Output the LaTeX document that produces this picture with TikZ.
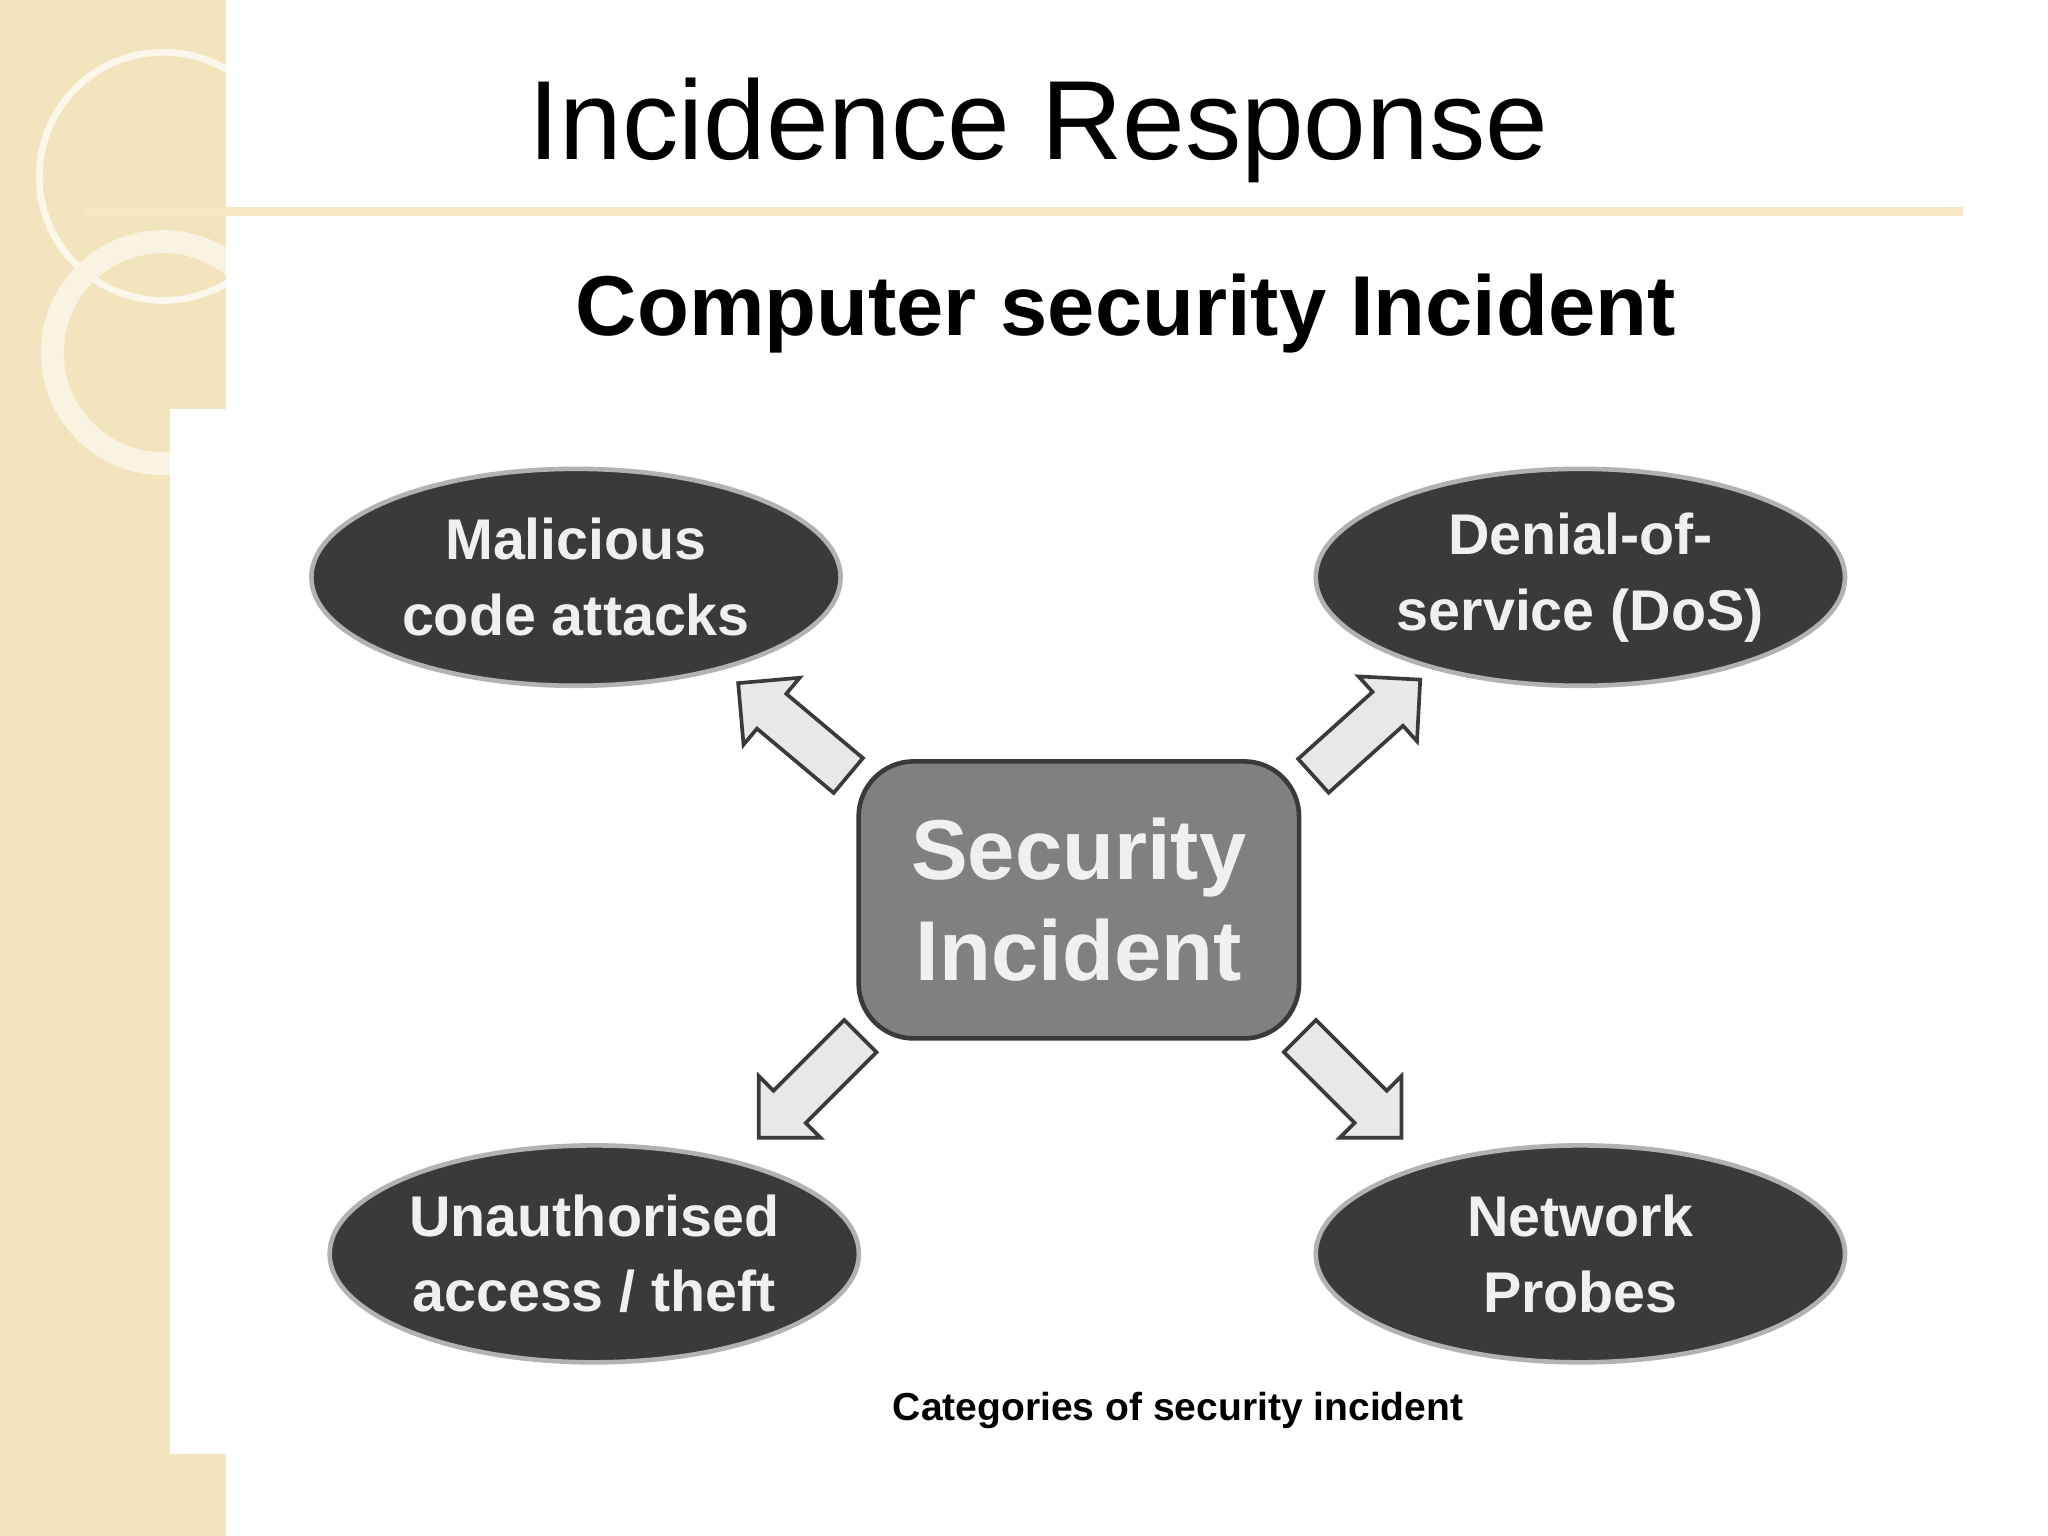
\documentclass[tikz,border=0pt]{standalone}
\usepackage{fontspec}
\setmainfont{Liberation Sans}
\usetikzlibrary{shapes.geometric,shapes.arrows}
\definecolor{beige}{RGB}{242,228,188}
\definecolor{beigeline}{RGB}{246,232,196}
\definecolor{ell}{RGB}{58,58,58}
\definecolor{box}{RGB}{128,128,128}
\tikzset{
 cat/.style={ellipse,fill=ell,draw=gray!60,line width=1pt,inner sep=0pt,minimum width=4.05cm,minimum height=1.66cm,text=white!94!black,font=\fontsize{12.5}{16.5}\selectfont\bfseries,align=center},
 blk/.style={single arrow,draw=ell,fill=gray!18,line width=0.8pt,minimum height=1.1cm,inner sep=0.16cm,single arrow head extend=0.16cm,single arrow head indent=0pt}
}
\begin{document}
\begin{tikzpicture}[x=0.01cm,y=-0.01cm]
\useasboundingbox (0,0) rectangle (1568,1176);
\fill[beige] (0,0) rectangle (173,1176);
\begin{scope}
\clip (0,0) rectangle (173,1176);
\draw[white!70!beige,line width=1.5pt] (125,135) circle (95);
\draw[white!55!beige,line width=5pt] (125,270) circle (85);
\end{scope}
\fill[white] (130,313) rectangle (1510,1113);
\node (title) at (795,100) {\fontsize{24.5}{28}\selectfont Incidence Response};
\draw[beigeline,line width=2pt] (65,162) -- (1503,162);
\node (sub) at (862,240) {\fontsize{18.5}{22}\selectfont\bfseries Computer security Incident};
\node[cat] (mal) at (441,442) {Malicious\\code attacks};
\node[cat] (dos) at (1210,442) {Denial-of-\\service (DoS)};
\node[cat] (una) at (455,960) {Unauthorised\\access / theft};
\node[cat] (net) at (1210,960) {Network\\Probes};
\node[rounded corners=12pt,fill=box,draw=ell,line width=1pt,minimum width=3.37cm,minimum height=2.12cm,text=white!94!black,font=\fontsize{18.5}{22}\selectfont\bfseries,align=center] (si) at (826,689) {Security\\ Incident};
\node[blk,rotate=140] (a1) at (614,564) {};
\node[blk,rotate=42] (a2) at (1040,563) {};
\node[blk,rotate=-135] (a3) at (626,826) {};
\node[blk,rotate=-45] (a4) at (1028,826) {};
\node (cap) at (902,1080) {\fontsize{8.5}{10}\selectfont\bfseries Categories of security incident};
\end{tikzpicture}
\end{document}
